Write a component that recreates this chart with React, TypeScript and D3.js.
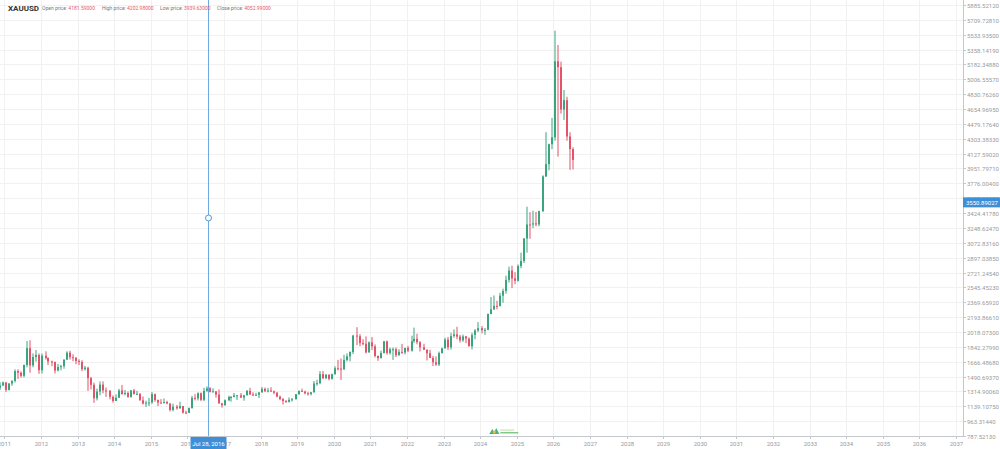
import React, { useEffect } from "react";
import * as d3 from "d3";

const W = 1000;
const H = 449;

const symbol = "XAUUSD";
const headerLabels = ["Open price:", "High price:", "Low price:", "Close price:"];
const headerValues = ["4181.59000", "4202.98000", "3939.63000", "4052.99000"];

// monthly candles, first one is Sep 2010
const firstMonth = new Date(2010, 8, 1);

const opens = [
  1247, 1307, 1357, 1386,
  1421, 1333, 1409, 1439, 1556, 1536, 1500, 1628, 1826, 1624, 1722, 1746,
  1566, 1738, 1710, 1669, 1664, 1562, 1604, 1614, 1691, 1773, 1719, 1712,
  1675, 1664, 1579, 1596, 1472, 1393, 1234, 1313, 1396, 1327, 1323, 1251,
  1202, 1240, 1326, 1284, 1296, 1250, 1327, 1282, 1287, 1210, 1171, 1182,
  1184, 1283, 1213, 1183, 1182, 1190, 1172, 1095, 1134, 1115, 1142, 1065,
  1061, 1118, 1238, 1233, 1293, 1215, 1322, 1351, 1309, 1316, 1277, 1173,
  1152, 1211, 1249, 1249, 1268, 1269, 1242, 1269, 1322, 1280, 1271, 1275,
  1303, 1345, 1318, 1325, 1316, 1299, 1253, 1224, 1201, 1192, 1215, 1222,
  1282, 1321, 1313, 1292, 1284, 1305, 1409, 1413, 1520, 1472, 1513, 1463,
  1517, 1589, 1585, 1577, 1687, 1730, 1781, 1975, 1968, 1886, 1879, 1776,
  1895, 1848, 1734, 1708, 1769, 1907, 1770, 1814, 1814, 1743, 1783, 1775,
  1829, 1797, 1909, 1937, 1897, 1837, 1807, 1766, 1711, 1660, 1633, 1768,
  1824, 1928, 1837, 1969, 1990, 1963, 1919, 1965, 1940, 1849, 1983, 2036,
  2063, 2039, 2044, 2230, 2286, 2327, 2326, 2447, 2503, 2634, 2744, 2651,
  2624, 2798, 2858, 3124, 3289, 3289, 3303, 3290, 3448, 3858, 4003, 4239,
  4320, 5220, 5150, 4650, 4760, 4330, 4181.59,
];

const highs = [
  1308, 1388, 1424, 1431,
  1424, 1412, 1447, 1576, 1577, 1552, 1632, 1911, 1920, 1764, 1804, 1764,
  1764, 1790, 1718, 1679, 1667, 1640, 1630, 1693, 1790, 1796, 1755, 1723,
  1695, 1684, 1617, 1606, 1487, 1419, 1348, 1433, 1434, 1361, 1330, 1267,
  1280, 1345, 1392, 1332, 1315, 1332, 1345, 1323, 1292, 1255, 1205, 1239,
  1307, 1289, 1219, 1224, 1232, 1205, 1175, 1170, 1156, 1191, 1143, 1088,
  1125, 1263, 1283, 1304, 1303, 1358, 1375, 1367, 1352, 1317, 1338, 1180,
  1220, 1264, 1261, 1296, 1272, 1296, 1274, 1331, 1357, 1306, 1299, 1306,
  1366, 1361, 1356, 1365, 1326, 1309, 1266, 1236, 1214, 1243, 1237, 1284,
  1326, 1347, 1324, 1310, 1306, 1439, 1453, 1555, 1557, 1518, 1516, 1525,
  1612, 1689, 1704, 1748, 1765, 1789, 1984, 2075, 1992, 1933, 1966, 1906,
  1959, 1872, 1740, 1798, 1913, 1917, 1833, 1834, 1834, 1814, 1877, 1831,
  1853, 1974, 2070, 1998, 1910, 1879, 1814, 1808, 1735, 1729, 1786, 1833,
  1949, 1959, 2009, 2049, 2079, 1984, 1987, 1970, 1953, 2009, 2052, 2135,
  2088, 2065, 2236, 2431, 2450, 2387, 2483, 2531, 2685, 2790, 2801, 2726,
  2817, 2956, 3128, 3500, 3435, 3452, 3439, 3453, 3871, 4381, 4245, 4550,
  5582, 5413, 5216, 4880, 4800, 4380, 4202.98,
];

const lows = [
  1242, 1305, 1331, 1377,
  1309, 1325, 1381, 1420, 1462, 1478, 1480, 1600, 1535, 1600, 1668, 1523,
  1527, 1691, 1627, 1613, 1527, 1553, 1564, 1583, 1685, 1692, 1672, 1636,
  1626, 1555, 1562, 1321, 1338, 1180, 1208, 1271, 1292, 1251, 1221, 1181,
  1202, 1238, 1277, 1268, 1240, 1241, 1282, 1272, 1207, 1160, 1131, 1142,
  1168, 1192, 1142, 1170, 1170, 1162, 1077, 1080, 1098, 1111, 1052, 1046,
  1061, 1111, 1208, 1208, 1199, 1200, 1310, 1302, 1302, 1241, 1171, 1123,
  1146, 1200, 1194, 1244, 1214, 1237, 1205, 1267, 1271, 1260, 1264, 1236,
  1302, 1307, 1303, 1310, 1282, 1246, 1211, 1160, 1180, 1183, 1196, 1221,
  1276, 1311, 1281, 1266, 1267, 1301, 1382, 1400, 1459, 1459, 1445, 1454,
  1517, 1563, 1451, 1568, 1670, 1671, 1757, 1863, 1849, 1859, 1764, 1776,
  1803, 1717, 1677, 1706, 1765, 1750, 1751, 1688, 1721, 1739, 1759, 1753,
  1780, 1786, 1890, 1872, 1787, 1805, 1681, 1709, 1615, 1617, 1616, 1765,
  1823, 1804, 1810, 1950, 1932, 1893, 1903, 1885, 1848, 1811, 1931, 2016,
  2001, 1984, 2039, 2228, 2277, 2286, 2319, 2364, 2471, 2603, 2537, 2583,
  2614, 2772, 2833, 2957, 3121, 3247, 3268, 3268, 3436, 3850, 3930, 4180,
  4280, 4092, 4600, 4526, 4280, 3935, 3939.63,
];

const closes = [
  1307, 1357, 1386, 1421,
  1333, 1409, 1439, 1556, 1536, 1500, 1628, 1826, 1624, 1722, 1746, 1566,
  1738, 1710, 1669, 1664, 1562, 1604, 1614, 1691, 1773, 1719, 1712, 1675,
  1664, 1579, 1596, 1472, 1393, 1234, 1313, 1396, 1327, 1323, 1251, 1202,
  1240, 1326, 1284, 1296, 1250, 1327, 1282, 1287, 1210, 1171, 1182, 1184,
  1283, 1213, 1183, 1182, 1190, 1172, 1095, 1134, 1115, 1142, 1065, 1061,
  1118, 1238, 1233, 1293, 1215, 1322, 1351, 1309, 1316, 1277, 1173, 1152,
  1211, 1249, 1249, 1268, 1269, 1242, 1269, 1322, 1280, 1271, 1275, 1303,
  1345, 1318, 1325, 1316, 1299, 1253, 1224, 1201, 1192, 1215, 1222, 1282,
  1321, 1313, 1292, 1284, 1305, 1409, 1413, 1520, 1472, 1513, 1463, 1517,
  1589, 1585, 1577, 1687, 1730, 1781, 1975, 1968, 1886, 1879, 1776, 1895,
  1848, 1734, 1708, 1769, 1907, 1770, 1814, 1814, 1743, 1783, 1775, 1829,
  1797, 1909, 1937, 1897, 1837, 1807, 1766, 1711, 1660, 1633, 1768, 1824,
  1928, 1837, 1969, 1990, 1963, 1919, 1965, 1940, 1849, 1983, 2036, 2063,
  2039, 2044, 2230, 2286, 2327, 2326, 2447, 2503, 2634, 2744, 2651, 2624,
  2798, 2858, 3124, 3289, 3288, 3303, 3290, 3448, 3858, 4003, 4239, 4320,
  5220, 5150, 4650, 4760, 4330, 4181.59, 4052.99,
];

const priceTickLabels = [
  "787.52130", "963.31440", "1139.10750", "1314.90060", "1490.69370", "1666.48680",
  "1842.27990", "2018.07300", "2193.86610", "2369.65920", "2545.45230", "2721.24540",
  "2897.03850", "3072.83160", "3248.62470", "3424.41780", "3600.21090", "3776.00400",
  "3951.79710", "4127.59020", "4303.38330", "4479.17640", "4654.96950", "4830.76260",
  "5006.55570", "5182.34880", "5358.14190", "5533.93500", "5709.72810", "5885.52120",
];

const yearTicks = [
  2011, 2012, 2013, 2014, 2015, 2016, 2017, 2018, 2019, 2020, 2021, 2022, 2023, 2024,
  2025, 2026, 2027, 2028, 2029, 2030, 2031, 2032, 2033, 2034, 2035, 2036, 2037,
];

const crossDate = new Date(2016, 6, 28);
const crossDateLabel = "Jul 28, 2016";
const crossPrice = 3550.89027;
const crossPriceLabel = "3550.89027";
const crossDotPrice = 3366;

const UP = "#3aa57c";
const DOWN = "#e2546a";
const BLUE = "#3d8fd8";
const FONT = "Roboto, 'Open Sans', sans-serif";

export default function App() {
  useEffect(() => {
    document.body.style.margin = "0";
  }, []);

  const plotRight = 963;
  const plotBottom = 436;

  const x = d3
    .scaleTime()
    .domain([new Date(2012, 0, 1), new Date(2037, 0, 1)])
    .range([41, 956]);
  const y = d3
    .scaleLinear()
    .domain([+priceTickLabels[0], +priceTickLabels[priceTickLabels.length - 1]])
    .range([plotBottom, 5]);

  const months = d3.timeMonth.range(
    firstMonth,
    d3.timeMonth.offset(firstMonth, closes.length)
  );
  const candles = months.map((m, i) => ({
    cx: Math.round(x(d3.timeDay.offset(m, 14))),
    o: opens[i],
    h: highs[i],
    l: lows[i],
    c: closes[i],
  }));

  const crossX = Math.round(x(crossDate)) + 0.5;
  const headerX = [42, 102, 160, 217];

  return (
    <svg
      width={W}
      height={H}
      style={{ position: "absolute", left: 0, top: 0, display: "block", background: "#fff" }}
      fontFamily={FONT}
    >
      <defs>
        <clipPath id="plot">
          <rect x={0} y={0} width={plotRight} height={plotBottom} />
        </clipPath>
      </defs>

      {/* grid */}
      <g stroke="#f1f1f1" strokeWidth={1}>
        {yearTicks.map((yr) => {
          const gx = Math.round(x(new Date(yr, 0, 1))) + 0.5;
          return <line key={"vg" + yr} x1={gx} x2={gx} y1={0} y2={plotBottom} />;
        })}
        {priceTickLabels.map((t) => {
          const gy = Math.round(y(+t)) + 0.5;
          return <line key={"hg" + t} x1={0} x2={plotRight} y1={gy} y2={gy} />;
        })}
      </g>

      {/* candles */}
      <g clipPath="url(#plot)">
        {candles.map((d, i) => {
          const col = d.c >= d.o ? UP : DOWN;
          const top = y(Math.max(d.o, d.c));
          const bot = y(Math.min(d.o, d.c));
          return (
            <g key={i} fill={col}>
              <rect x={d.cx - 0.5} y={y(d.h)} width={1} height={Math.max(1, y(d.l) - y(d.h))} />
              <rect x={d.cx - 1} y={top} width={2} height={Math.max(1, bot - top)} />
            </g>
          );
        })}
      </g>

      {/* axes */}
      <line x1={plotRight + 0.5} x2={plotRight + 0.5} y1={0} y2={plotBottom} stroke="#c4c8cc" />
      <line x1={0} x2={plotRight} y1={plotBottom + 0.5} y2={plotBottom + 0.5} stroke="#c4c8cc" />

      <g fontSize={6} fill="#9a9a9a">
        {priceTickLabels.map((t) => {
          const ty = Math.round(y(+t)) + 0.5;
          return (
            <g key={"yt" + t}>
              <line x1={plotRight} x2={plotRight + 3} y1={ty} y2={ty} stroke="#c4c8cc" />
              <text x={plotRight + 4} y={ty} dominantBaseline="central">
                {t}
              </text>
            </g>
          );
        })}
        {yearTicks.map((yr) => {
          const tx = Math.round(x(new Date(yr, 0, 1))) + 0.5;
          return (
            <g key={"xt" + yr}>
              <line x1={tx} x2={tx} y1={plotBottom} y2={plotBottom + 3} stroke="#c4c8cc" />
              <text x={tx} y={443} textAnchor="middle" dominantBaseline="central">
                {yr}
              </text>
            </g>
          );
        })}
      </g>

      {/* watermark logo */}
      <g transform={`translate(${x(new Date(2024, 3, 1))}, 428)`}>
        <path d="M0,6 L3,1 L5,4 L7,0 L10,6 Z" fill="#3aa57c" opacity={0.9} />
        <circle cx={5} cy={4} r={1.6} fill="#e6c12f" />
        <rect x={11} y={4.2} width={18} height={1.2} fill="#66bb6a" />
        <rect x={11} y={1.5} width={14} height={1.2} fill="#c9e3b5" />
      </g>

      {/* crosshair */}
      <line x1={crossX} x2={crossX} y1={0} y2={plotBottom} stroke={BLUE} strokeWidth={1} opacity={0.75} />
      <circle cx={crossX} cy={y(crossDotPrice)} r={3} fill="#fff" stroke={BLUE} strokeWidth={0.9} />
      <rect x={crossX - 18} y={437} width={36} height={12} fill={BLUE} />
      <text
        x={crossX}
        y={443}
        fontSize={6}
        fill="#fff"
        textAnchor="middle"
        dominantBaseline="central"
      >
        {crossDateLabel}
      </text>
      <rect x={plotRight} y={y(crossPrice) - 5} width={W - plotRight} height={10} fill={BLUE} />
      <text
        x={plotRight + 3}
        y={y(crossPrice)}
        fontSize={6}
        fill="#fff"
        dominantBaseline="central"
      >
        {crossPriceLabel}
      </text>

      {/* header */}
      <text x={8} y={11} fontSize={8} fontWeight="bold" fill="#333">
        {symbol}
      </text>
      {headerLabels.map((lab, i) => (
        <text key={lab} x={headerX[i]} y={10} fontSize={5}>
          <tspan fill="#777">{lab} </tspan>
          <tspan fill="#e35a6b">{headerValues[i]}</tspan>
        </text>
      ))}
    </svg>
  );
}
